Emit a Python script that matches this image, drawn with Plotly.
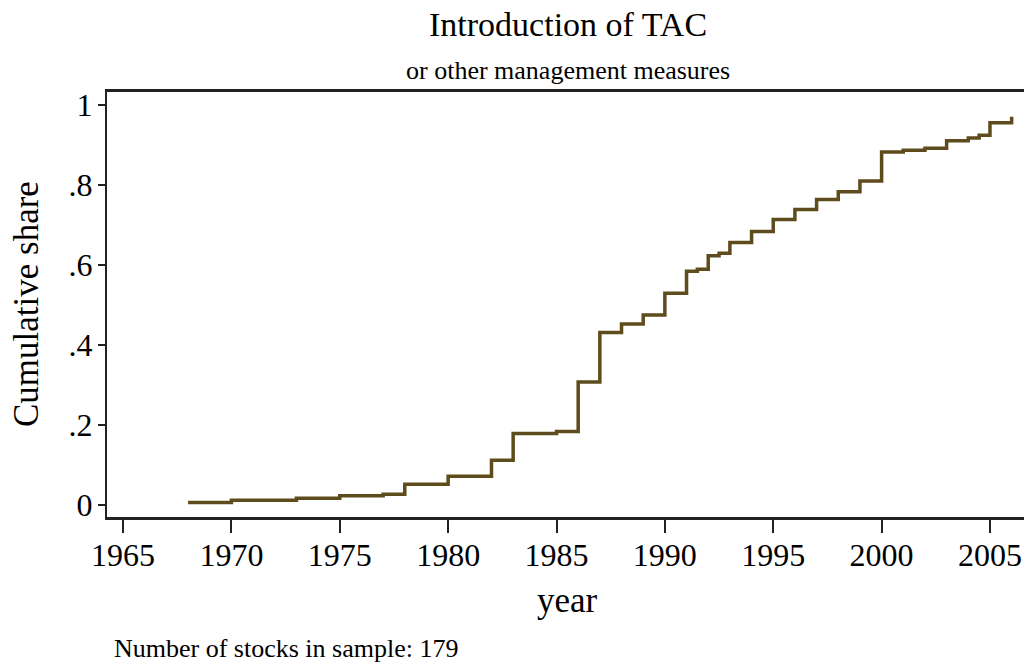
import plotly.graph_objects as go

# Data (step function of cumulative share)
years = [1968, 1970, 1973, 1975, 1977, 1978, 1980, 1982, 1983, 1985, 1986, 1987,
         1988, 1989, 1990, 1991, 1991.5, 1992, 1992.5, 1993, 1994, 1995, 1996,
         1997, 1998, 1999, 2000, 2001, 2002, 2003, 2004, 2004.5, 2005, 2006]
share = [0.0056, 0.011, 0.016, 0.022, 0.026, 0.051, 0.071, 0.111, 0.178, 0.183,
         0.307, 0.431, 0.452, 0.475, 0.529, 0.584, 0.589, 0.623, 0.629, 0.656,
         0.684, 0.714, 0.739, 0.764, 0.783, 0.810, 0.883, 0.887, 0.892, 0.911,
         0.918, 0.925, 0.956, 0.971]

x_ticks = [1965, 1970, 1975, 1980, 1985, 1990, 1995, 2000, 2005]
y_ticks = [0, 0.2, 0.4, 0.6, 0.8, 1]
y_ticktext = ["0", ".2", ".4", ".6", ".8", "1"]

title_text = "Introduction of TAC"
subtitle_text = "or other management measures"
xtitle = "year"
ytitle = "Cumulative share"
note_text = "Number of stocks in sample: 179"

W, H = 1024, 663
PL, PT, PR, PB = 107, 92, 1024, 517   # plot area in window pixels
L, T, R, B = PL, PT, W - PR, H - PB
pw, ph = PR - PL, PB - PT

def px(x):
    return (x - PL) / pw

def py(y):
    return (PB - y) / ph

FONT = "Liberation Serif, Times New Roman, serif"

fig = go.Figure()
fig.add_trace(go.Scatter(
    x=years, y=share, mode="lines", line_shape="hv",
    line=dict(color="#5f4c1c", width=3.5), showlegend=False, hoverinfo="skip"))

fig.update_layout(
    width=W, height=H,
    margin=dict(l=L, r=R, t=T, b=B, pad=0),
    paper_bgcolor="white", plot_bgcolor="white",
    font=dict(family=FONT, color="black"),
    xaxis=dict(range=[1964.26, 2006.57], tickmode="array", tickvals=x_ticks,
               ticks="outside", ticklen=13, tickwidth=2, tickcolor="#222",
               showline=True, linecolor="#222", linewidth=2.5, mirror=True,
               showgrid=False, zeroline=False, ticklabelstandoff=-5,
               ticklabeloverflow="allow",
               tickfont=dict(family=FONT, size=32, color="black")),
    yaxis=dict(range=[-0.031, 1.033], tickmode="array", tickvals=y_ticks,
               ticktext=y_ticktext, ticks="outside", ticklen=7, tickwidth=2,
               tickcolor="#222", showline=True, linecolor="#222", linewidth=2,
               showgrid=False, zeroline=False, ticklabelstandoff=-1,
               tickfont=dict(family=FONT, size=32, color="black")),
    annotations=[
        dict(text=title_text, x=px(568), y=py(25), xref="paper", yref="paper",
             showarrow=False, xanchor="center", yanchor="middle",
             font=dict(family=FONT, size=34, color="black")),
        dict(text=subtitle_text, x=px(568), y=py(70), xref="paper", yref="paper",
             showarrow=False, xanchor="center", yanchor="middle",
             font=dict(family=FONT, size=26, color="black")),
        dict(text=xtitle, x=px(567), y=py(600), xref="paper", yref="paper",
             showarrow=False, xanchor="center", yanchor="middle",
             font=dict(family=FONT, size=35, color="black")),
        dict(text=ytitle, x=px(26), y=py(304), xref="paper", yref="paper",
             showarrow=False, xanchor="center", yanchor="middle", textangle=-90,
             font=dict(family=FONT, size=35, color="black")),
        dict(text=note_text, x=px(112), y=py(648), xref="paper", yref="paper",
             showarrow=False, xanchor="left", yanchor="middle",
             font=dict(family=FONT, size=26, color="black")),
    ],
)

# Remove the default page margin so the 1024x663 figure fills the window exactly.
fig.write_html("out.html",
               config={"displayModeBar": False},
               post_script="document.body.style.margin='0';"
                           "document.body.style.overflow='hidden';")
